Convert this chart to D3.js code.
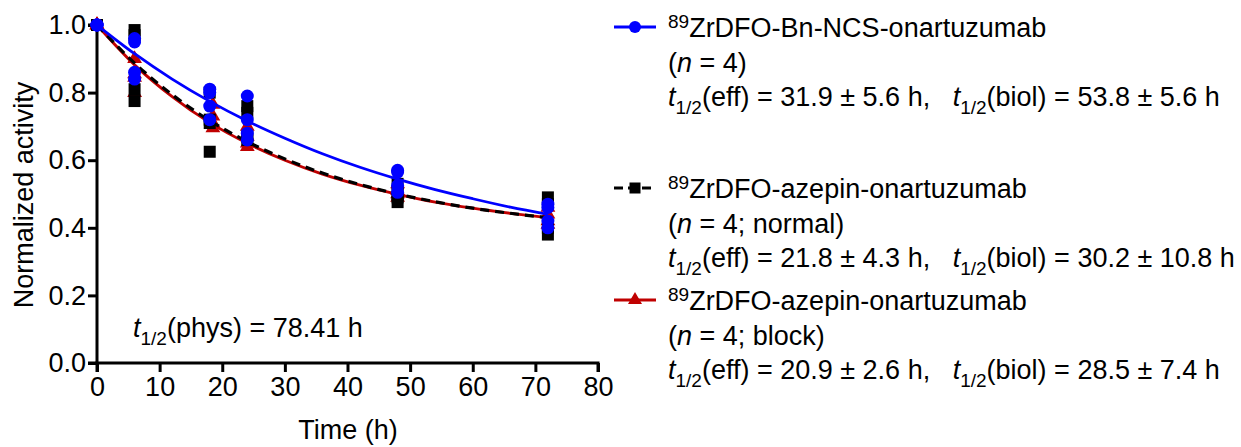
<!DOCTYPE html>
<html><head><meta charset="utf-8">
<script src="https://cdn.jsdelivr.net/npm/d3@7"></script>
<style>
html,body{margin:0;padding:0;background:#fff;}
svg text{font-family:"Liberation Sans",Arial,Helvetica,sans-serif;fill:#000;white-space:pre;}
</style></head>
<body><svg id="c" width="1241" height="447"></svg>
<script>
// ---- data ----
const timesBlue = [0, 6, 18, 24, 48, 72];
const timesBlack = [0, 6, 18, 24, 48, 72];
const timesRed = [0, 6, 18.5, 24, 48, 72];
const blueVals = [[1,1,1,1],[0.96,0.95,0.86,0.84],[0.81,0.80,0.76,0.72],[0.79,0.72,0.68,0.66],[0.57,0.565,0.525,0.505],[0.47,0.46,0.42,0.40]];
const blackVals = [[1,1,1,1],[0.985,0.97,0.81,0.775],[0.80,0.72,0.71,0.625],[0.76,0.74,0.67,0.66],[0.53,0.50,0.49,0.476],[0.49,0.47,0.40,0.38]];
const redVals = [[1,1,1,1],[0.90,0.855,0.845,0.80],[0.765,0.73,0.71,0.695],[0.70,0.67,0.65,0.64],[0.53,0.51,0.50,0.49],[0.46,0.44,0.42,0.41]];
const curveT = [0, 6, 12, 18, 24, 30, 36, 42, 48, 54, 60, 66, 72];
const blueCurve = [1.0, 0.915, 0.840, 0.774, 0.716, 0.665, 0.619, 0.579, 0.544, 0.513, 0.486, 0.461, 0.440];
const blackCurve = [1.0, 0.887, 0.794, 0.717, 0.655, 0.604, 0.562, 0.528, 0.500, 0.477, 0.458, 0.443, 0.430];
const redCurve = [1.0, 0.882, 0.788, 0.711, 0.650, 0.600, 0.559, 0.526, 0.499, 0.476, 0.458, 0.443, 0.430];
const xTicks = [0, 10, 20, 30, 40, 50, 60, 70, 80];
const yTicks = [0.0, 0.2, 0.4, 0.6, 0.8, 1.0];
const legendNames = ["ZrDFO-Bn-NCS-onartuzumab", "ZrDFO-azepin-onartuzumab", "ZrDFO-azepin-onartuzumab"];
const legendN = ["4", "4; normal", "4; block"];
const legendEff = ["31.9 ± 5.6 h", "21.8 ± 4.3 h", "20.9 ± 2.6 h"];
const legendBiol = ["53.8 ± 5.6 h", "30.2 ± 10.8 h", "28.5 ± 7.4 h"];
const physText = "78.41 h";

// ---- layout ----
const svg = d3.select("#c");
const x = d3.scaleLinear().domain([0, 80]).range([97, 598]);
const y = d3.scaleLinear().domain([0, 1]).range([363, 25]);
const FS = 27, SUB = 19;
const BLUE = "#0000ff", BLACK = "#000000", RED = "#c00000";

// axes
const xAxis = svg.append("g").attr("transform", "translate(0,363)")
  .call(d3.axisBottom(x).tickValues(xTicks).tickSize(9).tickPadding(5).tickFormat(d3.format("d")));
const yAxis = svg.append("g").attr("transform", "translate(97,0)")
  .call(d3.axisLeft(y).tickValues(yTicks).tickSize(9).tickPadding(2).tickFormat(d3.format(".1f")));
[xAxis, yAxis].forEach(a => {
  a.select(".domain").attr("stroke", "#000").attr("stroke-width", 3);
  a.selectAll(".tick line").attr("stroke", "#000").attr("stroke-width", 3);
  a.selectAll(".tick text").attr("font-size", FS).attr("font-family", "Liberation Sans, Arial, sans-serif").attr("fill", "#000");
});
xAxis.select(".domain").attr("d", "M97,9V0H598V9");
yAxis.select(".domain").attr("d", "M-9,363H0V25H-9");

svg.append("text").attr("x", 348).attr("y", 439).attr("text-anchor", "middle").attr("font-size", FS).text("Time (h)");
svg.append("text").attr("transform", "translate(33,195) rotate(-90)").attr("text-anchor", "middle").attr("font-size", FS).text("Normalized activity");

// physical half-life annotation
const pt = svg.append("text").attr("x", 133).attr("y", 337).attr("font-size", FS);
pt.append("tspan").attr("font-style", "italic").text("t");
pt.append("tspan").attr("font-size", SUB).attr("dy", 8).text("1/2");
pt.append("tspan").attr("dy", -8).text("(phys) = " + physText);

const line = d3.line().x(d => x(d[0])).y(d => y(d[1])).curve(d3.curveMonotoneX);

function markers(g, type, color, px, py, s) {
  if (type === "circle") {
    g.append("circle").attr("cx", px).attr("cy", py).attr("r", s).attr("fill", color);
  } else if (type === "square") {
    g.append("rect").attr("x", px - s).attr("y", py - s).attr("width", 2 * s).attr("height", 2 * s).attr("fill", color);
  } else {
    g.append("path").attr("d", d3.symbol(d3.symbolTriangle, s)()).attr("transform", `translate(${px},${py})`).attr("fill", color);
  }
}

const series = [
  {t: timesRed, v: redVals, c: redCurve, col: RED, type: "tri", dash: null, s: 95},
  {t: timesBlack, v: blackVals, c: blackCurve, col: BLACK, type: "square", dash: "9,6", s: 6},
  {t: timesBlue, v: blueVals, c: blueCurve, col: BLUE, type: "circle", dash: null, s: 6.5},
];
series.forEach(S => {
  const g = svg.append("g");
  g.append("path").datum(curveT.map((t, i) => [t, S.c[i]])).attr("d", line)
    .attr("fill", "none").attr("stroke", S.col).attr("stroke-width", S.type === "square" ? 3.2 : 2.8)
    .attr("stroke-dasharray", S.dash);
  S.t.forEach((t, i) => S.v[i].forEach(v => markers(g, S.type, S.col, x(t), y(v), S.s)));
});

// legend
const legTop = [27, 188, 300];
const legSeries = [series[2], series[1], series[0]];
legTop.forEach((ly, k) => {
  const S = legSeries[k];
  const g = svg.append("g");
  g.append("line").attr("x1", 614).attr("x2", 656).attr("y1", ly).attr("y2", ly)
    .attr("stroke", S.col).attr("stroke-width", 3).attr("stroke-dasharray", S.type === "square" ? "9,5" : null);
  markers(g, S.type, S.col, 635, ly, S.type === "circle" ? 6 : (S.type === "square" ? 5.5 : 85));
  const tx = 668, b = ly + 10;
  const t1 = g.append("text").attr("x", tx).attr("y", b).attr("font-size", FS);
  t1.append("tspan").attr("font-size", SUB).attr("dy", -9).text("89");
  t1.append("tspan").attr("dy", 9).text(legendNames[k]);
  const t2 = g.append("text").attr("x", tx).attr("y", b + 35).attr("font-size", FS);
  t2.append("tspan").text("(");
  t2.append("tspan").attr("font-style", "italic").text("n");
  t2.append("tspan").text(" = " + legendN[k] + ")");
  const t3 = g.append("text").attr("x", tx).attr("y", b + 69).attr("font-size", FS);
  t3.append("tspan").attr("font-style", "italic").text("t");
  t3.append("tspan").attr("font-size", SUB).attr("dy", 8).text("1/2");
  t3.append("tspan").attr("dy", -8).text("(eff) = " + legendEff[k] + ",   ");
  t3.append("tspan").attr("font-style", "italic").text("t");
  t3.append("tspan").attr("font-size", SUB).attr("dy", 8).text("1/2");
  t3.append("tspan").attr("dy", -8).text("(biol) = " + legendBiol[k]);
});
</script></body></html>
